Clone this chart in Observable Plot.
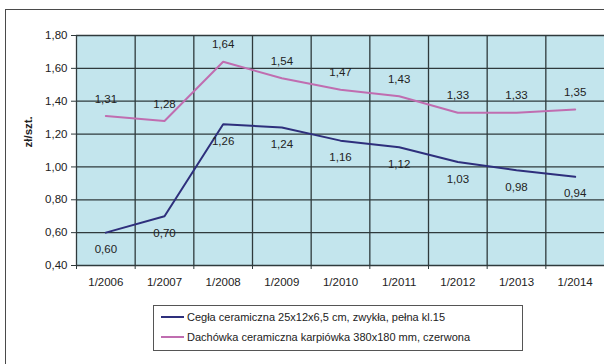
<!DOCTYPE html>
<html>
<head>
<meta charset="utf-8">
<script src="https://cdn.jsdelivr.net/npm/d3@7"></script>
<script src="https://cdn.jsdelivr.net/npm/@observablehq/plot@0.6"></script>
<style>
  html, body { margin: 0; padding: 0; background: #fff; }
  body { width: 604px; height: 364px; position: relative; overflow: hidden; font-family: "Liberation Sans", Arial, sans-serif; }
  #frame { position: absolute; left: 5px; top: 9px; width: 700px; height: 500px; border-top: 1.5px solid #4a4a4a; border-left: 1.5px solid #4a4a4a; }
  #chart { position: absolute; left: 0; top: 0; }
  #legend { position: absolute; left: 153px; top: 305px; width: 368px; height: 44px; border: 1px solid #555; background: #fff; font-size: 11px; color: #222; }
  .row { position: absolute; left: 7px; display: flex; align-items: center; white-space: nowrap; }
  .sw { width: 23px; height: 0; border-top: 2px solid; margin-right: 3px; }
</style>
</head>
<body>
<div id="frame"></div>
<div id="chart"></div>
<div id="legend"></div>
<script>
// Monthly price snapshots (January of each year), zł per piece
const periods = ["1/2006", "1/2007", "1/2008", "1/2009", "1/2010", "1/2011", "1/2012", "1/2013", "1/2014"];
const brickPrices = [0.60, 0.70, 1.26, 1.24, 1.16, 1.12, 1.03, 0.98, 0.94];
const tilePrices = [1.31, 1.28, 1.64, 1.54, 1.47, 1.43, 1.33, 1.33, 1.35];
const seriesNames = [
  "Cegła ceramiczna 25x12x6,5 cm, zwykła, pełna kl.15",
  "Dachówka ceramiczna karpiówka 380x180 mm, czerwona"
];
const seriesColors = ["#2e2f7c", "#c06db0"];
const yTicks = [0.4, 0.6, 0.8, 1.0, 1.2, 1.4, 1.6, 1.8];

const brick = periods.map((p, i) => ({i, period: p, value: brickPrices[i]}));
const tile = periods.map((p, i) => ({i, period: p, value: tilePrices[i]}));
// category boundaries (the right edge of the plot is left open)
const boundaries = d3.range(periods.length).map(i => i - 0.5);
const fmt = v => v.toFixed(2).replace(".", ",");

const chart = Plot.plot({
  width: 604,
  height: 300,
  marginLeft: 76,
  marginRight: 0,
  marginTop: 35,
  marginBottom: 35,
  style: {fontFamily: "Liberation Sans, Arial, sans-serif", fontSize: "11px", color: "#222", background: "transparent"},
  x: {domain: [-0.5, periods.length - 0.5], label: null},
  y: {domain: [0.4, 1.8], label: null},
  marks: [
    Plot.frame({fill: "#c3e5ed", stroke: null}),
    Plot.gridY(yTicks, {stroke: "#2f3a3c", strokeOpacity: 1, strokeWidth: 1.3}),
    Plot.gridX(boundaries, {stroke: "#2f3a3c", strokeOpacity: 1, strokeWidth: 1.3}),
    Plot.axisY(yTicks, {tickSize: 5, tickPadding: 4, tickFormat: fmt, stroke: "#2f3a3c", fontSize: 11.5, label: null}),
    Plot.axisX(boundaries, {tickSize: 4, tickFormat: () => "", stroke: "#2f3a3c", label: null}),
    Plot.axisX(d3.range(periods.length), {tickSize: 0, tickPadding: 12, tickFormat: i => periods[i], fontSize: 11.5, label: null}),
    Plot.line(brick, {x: "i", y: "value", stroke: seriesColors[0], strokeWidth: 2}),
    Plot.line(tile, {x: "i", y: "value", stroke: seriesColors[1], strokeWidth: 2}),
    Plot.text(brick, {x: "i", y: "value", text: d => fmt(d.value), dy: 17, fill: "#222", fontSize: 11.5}),
    Plot.text(tile, {x: "i", y: "value", text: d => fmt(d.value), dy: -17, fill: "#222", fontSize: 11.5}),
    Plot.text(["zł/szt."], {frameAnchor: "left", dx: -48, dy: -3, rotate: -90, fontWeight: "bold", fontSize: 11.5, fill: "#222"})
  ]
});
document.getElementById("chart").append(chart);

const legend = document.getElementById("legend");
seriesNames.forEach((name, k) => {
  const row = document.createElement("div");
  row.className = "row";
  row.style.top = (k === 0 ? 5 : 25) + "px";
  const sw = document.createElement("div");
  sw.className = "sw";
  sw.style.borderTopColor = seriesColors[k];
  const label = document.createElement("span");
  label.textContent = name;
  row.append(sw, label);
  legend.append(row);
});
</script>
</body>
</html>
